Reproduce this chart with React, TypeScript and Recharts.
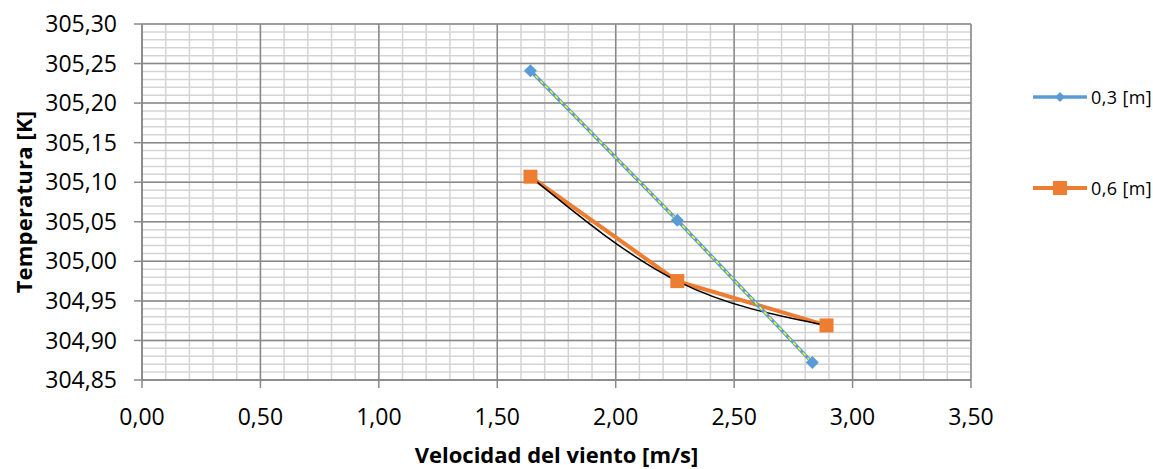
import React from "react";
import {
  LineChart,
  Line,
  XAxis,
  YAxis,
  CartesianGrid,
  Label,
} from "recharts";

const velocity03 = [1.64, 2.26, 2.83];
const temp03 = [305.241, 305.052, 304.872];
const velocity06 = [1.64, 2.26, 2.89];
const temp06 = [305.107, 304.975, 304.919];

const xTicks = [0, 0.5, 1, 1.5, 2, 2.5, 3, 3.5];
const yTicks = [304.85, 304.9, 304.95, 305.0, 305.05, 305.1, 305.15, 305.2, 305.25, 305.3];
const xMinor = Array.from({ length: 36 }, (_, i) => i / 10);
const yMinor = Array.from({ length: 46 }, (_, i) => +(304.85 + i * 0.01).toFixed(2));

const BLUE = "#5B9BD5";
const ORANGE = "#ED7D31";
const AXIS = "#898989";
const FONT = "'Open Sans', sans-serif";

const data03 = velocity03.map((x, i) => ({ x, y: temp03[i] }));
const data06 = velocity06.map((x, i) => ({ x, y: temp06[i] }));

const fmt = (v: number) => v.toFixed(2).replace(".", ",");

// recharts 3 hands the grid generators a scale that may be a plain d3 function or a wrapper with .map
const applyScale = (axis: any, v: number) => {
  const s = axis?.scale;
  if (typeof s === "function") return s(v);
  if (s && typeof s.map === "function") return s.map(v);
  return 0;
};

const Diamond = (p: any) => {
  const { cx, cy, index } = p;
  if (cx == null || cy == null) return <g key={index} />;
  const r = 6.5;
  return (
    <path
      key={index}
      d={`M${cx} ${cy - r}L${cx + r} ${cy}L${cx} ${cy + r}L${cx - r} ${cy}Z`}
      fill={BLUE}
    />
  );
};

const Square = (p: any) => {
  const { cx, cy, index } = p;
  if (cx == null || cy == null) return <g key={index} />;
  return <rect key={index} x={cx - 7} y={cy - 7} width={14} height={14} fill={ORANGE} />;
};

const legendItems = [
  { name: "0,3 [m]", color: BLUE, shape: "diamond" },
  { name: "0,6 [m]", color: ORANGE, shape: "square" },
];

function LegendBox() {
  return (
    <div
      style={{
        position: "absolute",
        left: 1031,
        top: 86,
        fontFamily: FONT,
        fontSize: 18,
        letterSpacing: 0.4,
        color: "#000",
      }}
    >
      {legendItems.map((it, i) => (
        <div
          key={it.name}
          style={{ display: "flex", alignItems: "center", height: 22, marginBottom: i === 0 ? 69 : 0 }}
        >
          <svg width={58} height={20}>
            <line x1={2} y1={10} x2={56} y2={10} stroke={it.color} strokeWidth={it.shape === "square" ? 4 : 3.5} />
            {it.shape === "diamond" ? (
              <path d="M29 5L34 10L29 15L24 10Z" fill={it.color} />
            ) : (
              <rect x={22} y={3} width={14} height={14} fill={it.color} />
            )}
          </svg>
          <span style={{ marginLeft: 2 }}>{it.name}</span>
        </div>
      ))}
    </div>
  );
}

const tickStyle = { fill: "#000", fontSize: 23, fontFamily: FONT };
const titleStyle = { fontFamily: FONT, fontSize: 22, fontWeight: 700, fill: "#000" };

export default function App() {
  return (
    <div style={{ position: "absolute", left: 0, top: 0, width: 1153, height: 469, background: "#fff" }}>
      <LineChart width={1153} height={469} margin={{ top: 24, right: 182, left: 0, bottom: 0 }}>
        <CartesianGrid
          stroke="#d4d4d4"
          strokeWidth={1.5}
          horizontalCoordinatesGenerator={({ yAxis }: any) => yMinor.map((v) => applyScale(yAxis, v))}
          verticalCoordinatesGenerator={({ xAxis }: any) => xMinor.map((v) => applyScale(xAxis, v))}
        />
        <CartesianGrid stroke={AXIS} strokeWidth={1.5} />
        <XAxis
          type="number"
          dataKey="x"
          domain={[0, 3.5]}
          ticks={xTicks}
          tickFormatter={fmt}
          height={89}
          tickSize={8}
          tickMargin={21}
          stroke={AXIS}
          strokeWidth={1.5}
          tick={tickStyle}
          allowDataOverflow
        >
          <Label
            value="Velocidad del viento [m/s]"
            position="insideBottom"
            offset={6}
            style={titleStyle}
          />
        </XAxis>
        <YAxis
          type="number"
          dataKey="y"
          domain={[304.85, 305.3]}
          ticks={yTicks}
          tickFormatter={fmt}
          width={142}
          tickSize={8}
          tickMargin={17}
          stroke={AXIS}
          strokeWidth={1.5}
          tick={tickStyle}
          allowDataOverflow
        >
          <Label
            content={() => (
              <text
                x={23}
                y={202}
                transform="rotate(-90 23 202)"
                textAnchor="middle"
                dominantBaseline="central"
                style={{ ...titleStyle, letterSpacing: 0.2 }}
              >
                Temperatura [K]
              </text>
            )}
          />
        </YAxis>
        <Line
          data={data06}
          dataKey="y"
          type="linear"
          stroke={ORANGE}
          strokeWidth={4}
          dot={Square}
          activeDot={false}
          isAnimationActive={false}
          legendType="none"
        />
        <Line
          data={data06}
          dataKey="y"
          type="natural"
          stroke="#000"
          strokeWidth={1.5}
          dot={false}
          activeDot={false}
          isAnimationActive={false}
          legendType="none"
        />
        <Line
          data={data03}
          dataKey="y"
          type="linear"
          stroke={BLUE}
          strokeWidth={3.5}
          dot={Diamond}
          activeDot={false}
          isAnimationActive={false}
          legendType="none"
        />
        <Line
          data={data03}
          dataKey="y"
          type="linear"
          stroke="#FFFF00"
          strokeWidth={1.5}
          strokeDasharray="4 3"
          dot={false}
          activeDot={false}
          isAnimationActive={false}
          legendType="none"
        />
      </LineChart>
      <LegendBox />
    </div>
  );
}
